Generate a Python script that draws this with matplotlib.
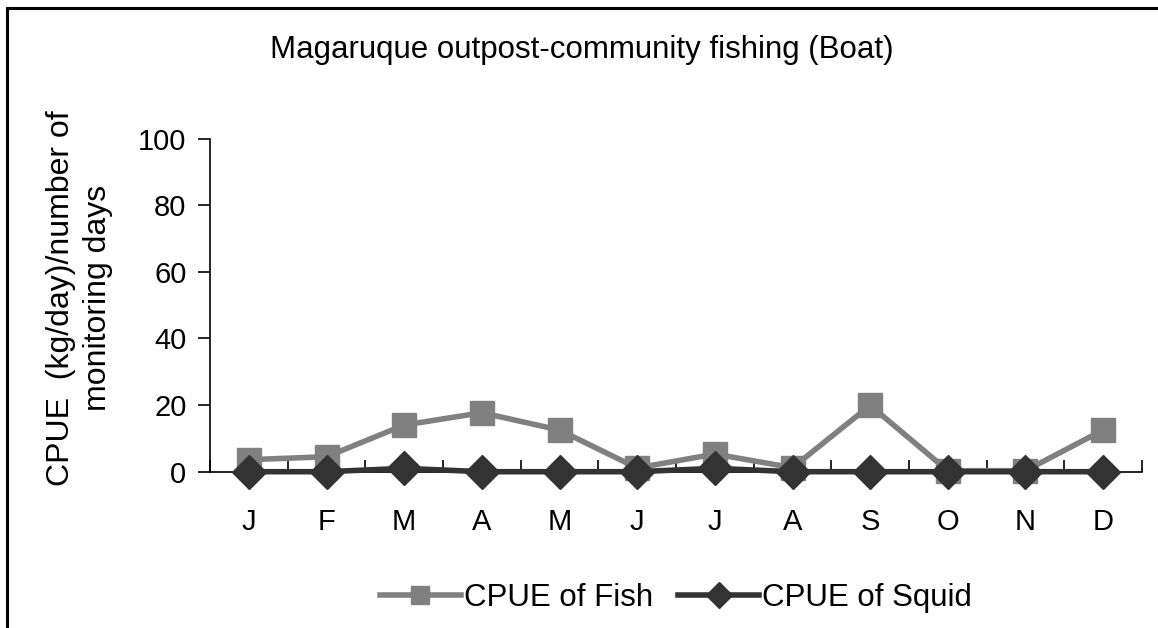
import matplotlib
matplotlib.use("Agg")
import matplotlib.pyplot as plt
from matplotlib.lines import Line2D

plt.rcParams['font.family'] = ['Liberation Sans', 'DejaVu Sans']

months = ["J", "F", "M", "A", "M", "J", "J", "A", "S", "O", "N", "D"]
fish = [3.6, 4.5, 14.0, 17.7, 12.5, 1.1, 5.3, 1.2, 19.9, 0.3, 0.3, 12.5]
squid = [0.0, 0.0, 1.0, 0.0, 0.0, 0.0, 1.0, 0.0, 0.0, 0.0, 0.0, 0.0]
yticks = [0, 20, 40, 60, 80, 100]

W, H = 1158, 628
fig = plt.figure(figsize=(W / 100, H / 100), dpi=100)
ax = fig.add_axes([210 / W, 1 - 471.7 / H, (1142 - 210) / W, (471.7 - 138.5) / H])

x = list(range(len(months)))
ax.plot(x, fish, color="#808080", lw=4, marker="s", ms=17.5, mec="#808080",
        mfc="#808080", label="CPUE of Fish", zorder=3, clip_on=False)
ax.plot(x, squid, color="#333333", lw=4, marker="D", ms=17, mec="#333333",
        mfc="#333333", label="CPUE of Squid", zorder=4, clip_on=False)

ax.set_xlim(-0.5, len(months) - 0.5)
ax.set_ylim(0, 100)
ax.set_yticks(yticks)
ax.set_yticklabels([str(v) for v in yticks], fontsize=21)
ax.set_xticks(x)
ax.set_xticklabels(months, fontsize=21)
ax.tick_params(axis='x', which='major', length=0, pad=26)
ax.set_xticks([i - 0.5 for i in range(len(months) + 1)], minor=True)
ax.tick_params(axis='x', which='minor', length=9, width=1.2, direction='in')
ax.tick_params(axis='y', length=9, width=1.2, direction='out', pad=8)
for s in ["top", "right"]:
    ax.spines[s].set_visible(False)
for s in ["left", "bottom"]:
    ax.spines[s].set_linewidth(1.2)
ax.spines["bottom"].set_zorder(2)

fig.text(582 / W, 1 - 50 / H, "Magaruque outpost-community fishing (Boat)",
         ha="center", va="center", fontsize=22.5)
fig.text(61 / W, 1 - 298 / H, "CPUE  (kg/day)/number of", rotation=90,
         ha="center", va="center", fontsize=23)
fig.text(98 / W, 1 - 298 / H, "monitoring days", rotation=90,
         ha="center", va="center", fontsize=23)

handles, labels = ax.get_legend_handles_labels()
fig.legend(handles, labels, loc="center", bbox_to_anchor=(676 / W, 1 - 598 / H),
           ncol=2, frameon=False, fontsize=22.5, handlelength=2.6,
           handletextpad=0.1, columnspacing=0.8, markerscale=0.75)

# outer border (left and top edges visible)
fig.add_artist(Line2D([7 / W, 7 / W], [0, 1 - 8 / H], transform=fig.transFigure,
                      color="black", lw=2.2))
fig.add_artist(Line2D([7 / W, 1], [1 - 8 / H, 1 - 8 / H], transform=fig.transFigure,
                      color="black", lw=2.2))

fig.savefig("out.png", dpi=100)
